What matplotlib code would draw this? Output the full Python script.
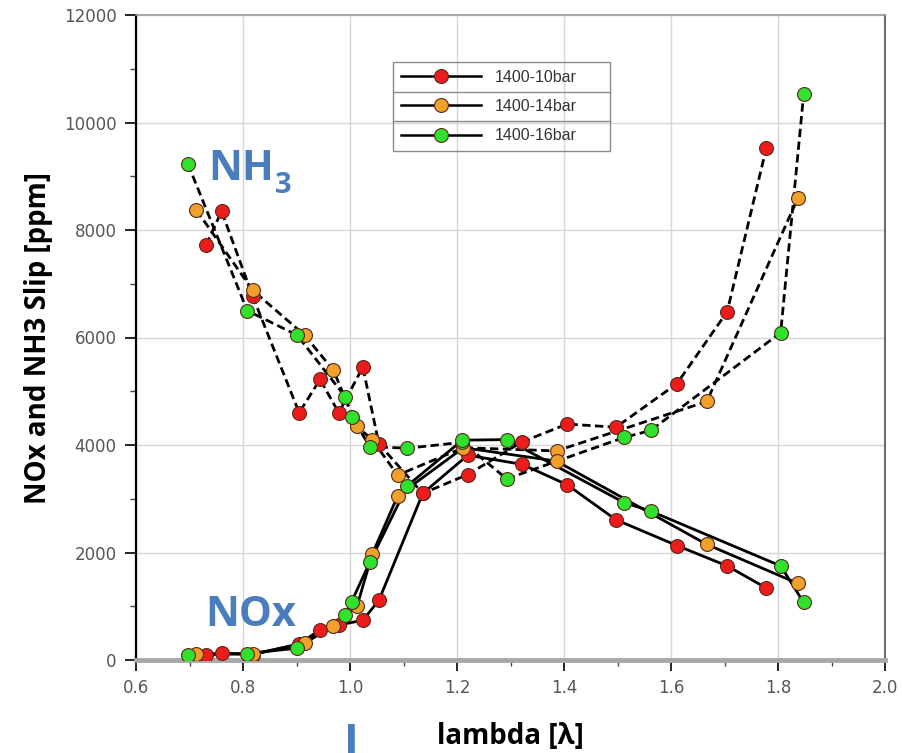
import matplotlib
matplotlib.use("Agg")
import matplotlib.pyplot as plt
from matplotlib.ticker import MultipleLocator
from matplotlib.lines import Line2D
from matplotlib.patches import Rectangle

# lambda sweep at 1400 rpm, three boost pressures
lam_10 = [0.731, 0.760, 0.818, 0.905, 0.944, 0.979, 1.024, 1.054, 1.136, 1.220,
          1.322, 1.406, 1.497, 1.611, 1.705, 1.778]
nh3_10 = [7720, 8350, 6770, 4600, 5220, 4600, 5450, 4020, 3100, 3450,
          4060, 4390, 4330, 5140, 6480, 9520]
nox_10 = [90, 130, 100, 300, 560, 650, 740, 1110, 3100, 3810,
          3640, 3260, 2610, 2130, 1750, 1340]

lam_14 = [0.713, 0.818, 0.915, 0.969, 1.013, 1.042, 1.089, 1.212, 1.386, 1.667, 1.837]
nh3_14 = [8370, 6880, 6045, 5390, 4350, 4090, 3440, 3950, 3890, 4810, 8590]
nox_14 = [120, 110, 310, 640, 1000, 1980, 3050, 3950, 3700, 2150, 1425]

lam_16 = [0.697, 0.808, 0.901, 0.991, 1.003, 1.037, 1.107, 1.210, 1.293,
          1.512, 1.562, 1.805, 1.848]
nh3_16 = [9230, 6500, 6045, 4900, 4530, 3970, 3940, 4050, 3370,
          4140, 4270, 6090, 10530]
nox_16 = [90, 120, 220, 830, 1085, 1820, 3240, 4090, 4100,
          2930, 2770, 1750, 1070]

labels = ["1400-10bar", "1400-14bar", "1400-16bar"]
colors = ["#ec1c1c", "#efa12c", "#2ee22e"]
blue = "#4a7dbd"

series = [(lam_10, nh3_10, nox_10), (lam_14, nh3_14, nox_14), (lam_16, nh3_16, nox_16)]

W, H = 903, 753
fig = plt.figure(figsize=(W / 100, H / 100), dpi=100)
ax = fig.add_axes([136 / W, 1 - 660 / H, 749 / W, 645 / H])

# lines first so every marker sits above all curves
for lam, nh3, nox in series:
    ax.plot(lam, nh3, color="black", lw=2.0, ls=(0, (3.0, 1.6)), zorder=3)
    ax.plot(lam, nox, color="black", lw=2.0, ls="-", zorder=3)
for (lam, nh3, nox), c in zip(series, colors):
    ax.plot(lam, nh3, ls="none", marker="o", ms=10, mfc=c, mec="#5a2a1a", mew=0.8, zorder=4)
    ax.plot(lam, nox, ls="none", marker="o", ms=10, mfc=c, mec="#5a2a1a", mew=0.8, zorder=4)

ax.set_xlim(0.6, 2.0)
ax.set_ylim(0, 12000)
ax.xaxis.set_major_locator(MultipleLocator(0.2))
ax.xaxis.set_minor_locator(MultipleLocator(0.1))
ax.yaxis.set_major_locator(MultipleLocator(2000))
ax.yaxis.set_minor_locator(MultipleLocator(1000))
ax.set_xticklabels([f"{v:.1f}" for v in ax.get_xticks()])
ax.grid(True, which="major", color="#d6d6d6", lw=1.0, zorder=0)
ax.tick_params(which="major", direction="out", length=8, width=1.2, color="black",
               labelsize=12, labelcolor="#555555", pad=6)
ax.tick_params(which="minor", direction="out", length=4, width=1.0, color="#444444")

ax.spines["left"].set_color("black")
ax.spines["left"].set_linewidth(1.6)
ax.spines["bottom"].set_color("#a8a8a8")
ax.spines["bottom"].set_linewidth(3.5)
ax.spines["right"].set_color("#6e6e6e")
ax.spines["right"].set_linewidth(1.5)
ax.spines["top"].set_color("#9a9a9a")
ax.spines["top"].set_linewidth(1.2)

ax.set_xlabel("lambda [λ]", family="Open Sans", fontweight="bold", fontsize=20, labelpad=18)
ax.set_ylabel("NOx and NH3 Slip [ppm]", family="Open Sans", fontweight="bold", fontsize=20,
              labelpad=8)

# legend: solid line with coloured marker, boxed rows
handles = [Line2D([], [], color="black", lw=1.8, marker="o", ms=10, mfc=c,
                  mec="#5a2a1a", mew=0.8) for c in colors]
leg = ax.legend(handles, labels, loc="upper left", bbox_to_anchor=(257 / 749, 598 / 645),
                frameon=False, borderaxespad=0, handlelength=5.0, handletextpad=0.9,
                borderpad=0.5, labelspacing=0.88,
                prop={"family": "Liberation Sans", "size": 11.5})
for t in leg.get_texts():
    t.set_color("#333333")

# table-style frame around the legend rows
fig.canvas.draw()
bb = leg.get_window_extent().transformed(fig.transFigure.inverted())
bx0, bx1 = 393 / W, 610 / W
fig.add_artist(Rectangle((bx0, bb.y0), bx1 - bx0, bb.height, fill=False,
                         ec="#8a8a8a", lw=1.0, transform=fig.transFigure, zorder=5))
for k in (1, 2):
    yy = bb.y0 + bb.height * k / 3
    fig.add_artist(Line2D([bx0, bx1], [yy, yy], color="#8a8a8a", lw=1.0,
                          transform=fig.transFigure, zorder=5))

# species annotations
fig.text(208 / W, 1 - 180 / H, "NH", family="Open Sans", fontweight="bold",
         fontsize=30, color=blue, ha="left", va="baseline")
fig.text(275 / W, 1 - 193 / H, "3", family="Open Sans", fontweight="bold",
         fontsize=21, color=blue, ha="left", va="baseline")
fig.text(205 / W, 1 - 626 / H, "NOx", family="Open Sans", fontweight="bold",
         fontsize=30, color=blue, ha="left", va="baseline")
fig.text(344 / W, 1 - 722 / H, "I", family="Open Sans", fontweight="bold",
         fontsize=32, color=blue, ha="left", va="top")

fig.savefig("out.png", dpi=100)
